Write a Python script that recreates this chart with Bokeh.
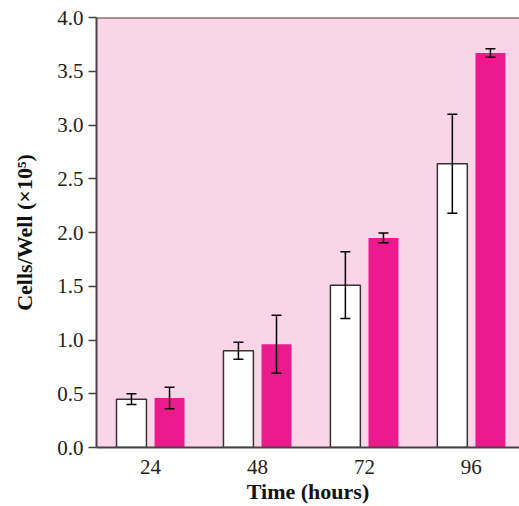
from bokeh.plotting import figure
from bokeh.models import Range1d, FixedTicker, Whisker, ColumnDataSource, Span, TeeHead
from bokeh.embed import file_html
from bokeh.resources import INLINE

hours = ["24", "48", "72", "96"]
control = [0.45, 0.90, 1.51, 2.64]
control_err = [0.05, 0.08, 0.31, 0.46]
treated = [0.46, 0.96, 1.95, 3.67]
treated_err = [0.10, 0.27, 0.045, 0.04]
y_ticks = [0.0, 0.5, 1.0, 1.5, 2.0, 2.5, 3.0, 3.5, 4.0]

pos = [i + 1 for i in range(len(hours))]
off = 0.178
bw = 0.28
xc = [p_ - off for p_ in pos]
xt = [p_ + off for p_ in pos]

src_c = ColumnDataSource(dict(x=xc, top=control,
                              lo=[v - e for v, e in zip(control, control_err)],
                              hi=[v + e for v, e in zip(control, control_err)]))
src_t = ColumnDataSource(dict(x=xt, top=treated,
                              lo=[v - e for v, e in zip(treated, treated_err)],
                              hi=[v + e for v, e in zip(treated, treated_err)]))

p = figure(width=519, height=506, output_backend="svg", toolbar_location=None,
           x_range=Range1d(0.495, 4.45), y_range=Range1d(0, 4.0),
           min_border_left=96, min_border_right=0, min_border_top=17, min_border_bottom=56)
p.background_fill_color = "#FAD5E8"
p.border_fill_color = "white"
p.outline_line_color = None
p.grid.visible = False

p.vbar(x="x", top="top", width=bw, bottom=0, source=src_c,
       fill_color="white", line_color="#333333", line_width=1.5)
p.vbar(x="x", top="top", width=bw, bottom=0, source=src_t,
       fill_color="#EC1A8C", line_color=None)

for src in (src_c, src_t):
    w = Whisker(base="x", lower="lo", upper="hi", source=src, level="overlay",
                line_color="black", line_width=1.5,
                upper_head=TeeHead(size=10, line_color="black", line_width=1.5),
                lower_head=TeeHead(size=10, line_color="black", line_width=1.5))
    p.add_layout(w)

p.add_layout(Span(location=4.0, dimension="width", line_color="#444444", line_width=2))

font = "Liberation Serif"
p.xaxis.ticker = FixedTicker(ticks=pos)
p.xaxis.major_label_overrides = {pp: h for pp, h in zip(pos, hours)}
p.xaxis.minor_tick_line_color = None
p.xaxis.axis_label = "Time (hours)"
p.yaxis.ticker = FixedTicker(ticks=y_ticks)
p.yaxis.major_label_overrides = {t: f"{t:.1f}" for t in y_ticks}
p.yaxis.minor_tick_line_color = None
p.yaxis.major_tick_in = 0
p.yaxis.major_tick_out = 8
p.yaxis.axis_label = "Cells/Well (×10⁵)"

for ax in (p.xaxis[0], p.yaxis[0]):
    ax.axis_line_color = "#444444"
    ax.axis_line_width = 2
    ax.major_tick_line_width = 1.5
    ax.major_label_text_font = font
    ax.major_label_text_font_size = "21px"
    ax.major_label_text_color = "#222222"
    ax.axis_label_text_font = font
    ax.axis_label_text_font_size = "22px"
    ax.axis_label_text_font_style = "bold"
    ax.axis_label_text_color = "#111111"
p.xaxis.major_tick_line_color = None
p.yaxis.major_tick_line_color = "#444444"
p.yaxis.major_label_standoff = 5
p.xaxis.major_label_standoff = 6
p.xaxis.axis_label_standoff = 2
p.yaxis.axis_label_standoff = 17

open("out.html", "w").write(file_html(p, INLINE))
